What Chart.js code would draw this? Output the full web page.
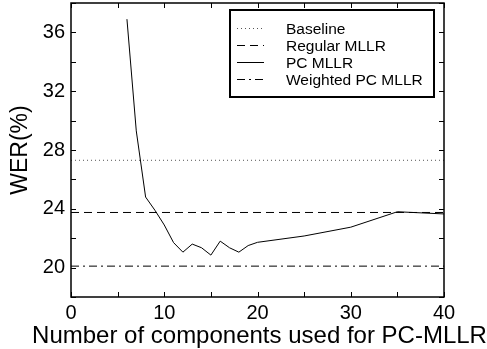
<!DOCTYPE html>
<html>
<head>
<meta charset="utf-8">
<script src="https://cdn.jsdelivr.net/npm/chart.js@4.4.0/dist/chart.umd.min.js"></script>
<style>
body { margin: 0; background: #fff; }
</style>
</head>
<body>
<canvas id="wer" width="487" height="349"></canvas>
<script>
const components = [6, 7, 8, 9, 10, 11, 12, 13, 14, 15, 16, 17, 18, 19, 20, 25, 30, 35, 40];
const pcMllr = [36.9, 29.3, 24.8, 23.9, 22.9, 21.7, 21.05, 21.6, 21.35, 20.85, 21.8, 21.35, 21.05, 21.5, 21.72, 22.15, 22.75, 23.8, 23.65];
const xRange = [0, 40];
const baseline = 27.3;
const regularMllr = 23.75;
const weightedPcMllr = 20.1;
const seriesNames = ['Baseline', 'Regular MLLR', 'PC MLLR', 'Weighted PC MLLR'];
const xTitle = 'Number of components used for PC-MLLR';

const flat = v => xRange.map(x => ({ x: x, y: v }));
const police = 'Liberation Sans, Arial, Helvetica, sans-serif';

// ....... cadre, ticks vers l'interieur, legende, titre x .......
const cadre = {
    id: 'cadre',
    afterDatasetsDraw(chart) {
        const { ctx, chartArea: a, scales: { x, y } } = chart;
        ctx.save();
        ctx.strokeStyle = '#000';
        ctx.lineWidth = 1;
        ctx.setLineDash([]);
        ctx.beginPath();
        x.ticks.forEach(t => {
            const px = Math.round(x.getPixelForValue(t.value)) + 0.5;
            ctx.moveTo(px, a.bottom); ctx.lineTo(px, a.bottom - 5);
            ctx.moveTo(px, a.top); ctx.lineTo(px, a.top + 5);
        });
        y.ticks.forEach(t => {
            const py = Math.round(y.getPixelForValue(t.value)) + 0.5;
            ctx.moveTo(a.left, py); ctx.lineTo(a.left + 5, py);
            ctx.moveTo(a.right, py); ctx.lineTo(a.right - 5, py);
        });
        ctx.stroke();
        ctx.lineWidth = 1.5;
        ctx.strokeRect(a.left, a.top, a.width, a.height);

        // legende
        const lx = a.right - 214, ly = a.top + 7;
        ctx.lineWidth = 2;
        ctx.fillStyle = '#fff';
        ctx.fillRect(lx, ly, 204, 87);
        ctx.strokeRect(lx, ly, 204, 87);
        ctx.font = '15.5px ' + police;
        ctx.textBaseline = 'middle';
        chart.data.datasets.forEach((ds, i) => {
            const ry = Math.round(ly + 18 + i * 17) + 0.5;
            ctx.strokeStyle = ds.borderColor;
            ctx.lineWidth = 1;
            ctx.setLineDash(ds.borderDash || []);
            ctx.beginPath();
            ctx.moveTo(lx + 7, ry); ctx.lineTo(lx + 34, ry);
            ctx.stroke();
            ctx.fillStyle = '#000';
            ctx.fillText(ds.label, lx + 56, ry + 1);
        });

        // titre de l'axe x (plus large que la zone du graphe)
        ctx.font = '24px ' + police;
        ctx.textAlign = 'center';
        ctx.textBaseline = 'middle';
        ctx.fillStyle = '#000';
        ctx.fillText(xTitle, (a.left + a.right) / 2 + 2, 336);
        ctx.restore();
    }
};

const ctx = document.getElementById('wer').getContext('2d');
const chart = new Chart(ctx, {
    type: 'line',
    data: {
        datasets: [{
            label: seriesNames[0],
            data: flat(baseline),
            borderColor: '#555',
            borderWidth: 1,
            borderDash: [1, 3],
            pointRadius: 0
        }, {
            label: seriesNames[1],
            data: flat(regularMllr),
            borderColor: '#000',
            borderWidth: 1,
            borderDash: [8, 5],
            pointRadius: 0
        }, {
            label: seriesNames[2],
            data: components.map((c, i) => ({ x: c, y: pcMllr[i] })),
            borderColor: '#000',
            borderWidth: 1,
            pointRadius: 0
        }, {
            label: seriesNames[3],
            data: flat(weightedPcMllr),
            borderColor: '#000',
            borderWidth: 1,
            borderDash: [8, 4, 2, 4],
            pointRadius: 0
        }]
    },
    options: {
        responsive: false,
        animation: false,
        devicePixelRatio: 1,
        layout: { padding: { top: 3, right: 43, left: 0, bottom: 0 } },
        plugins: {
            legend: { display: false },
            tooltip: { enabled: false }
        },
        scales: {
            x: {
                type: 'linear',
                min: 0,
                max: 40,
                afterFit: s => { s.height = 52; s.paddingLeft = 0; s.paddingRight = 0; },
                grid: { display: false, drawTicks: false },
                border: { display: false },
                ticks: {
                    stepSize: 5,
                    autoSkip: false,
                    maxRotation: 0,
                    padding: 4,
                    color: '#000',
                    font: { family: police, size: 20 },
                    callback: v => (v % 10 === 0 ? v : '')
                }
            },
            y: {
                min: 18,
                max: 38,
                afterFit: s => { s.width = 71; s.paddingTop = 0; s.paddingBottom = 0; },
                grid: { display: false, drawTicks: false },
                border: { display: false },
                ticks: {
                    stepSize: 2,
                    autoSkip: false,
                    padding: 6,
                    color: '#000',
                    font: { family: police, size: 20 },
                    callback: v => (v % 4 === 0 ? v : '')
                },
                title: {
                    display: true,
                    text: 'WER(%)',
                    color: '#000',
                    font: { family: police, size: 23 },
                    padding: { top: 7, bottom: 0 }
                }
            }
        }
    },
    plugins: [cadre]
});
</script>
</body>
</html>
